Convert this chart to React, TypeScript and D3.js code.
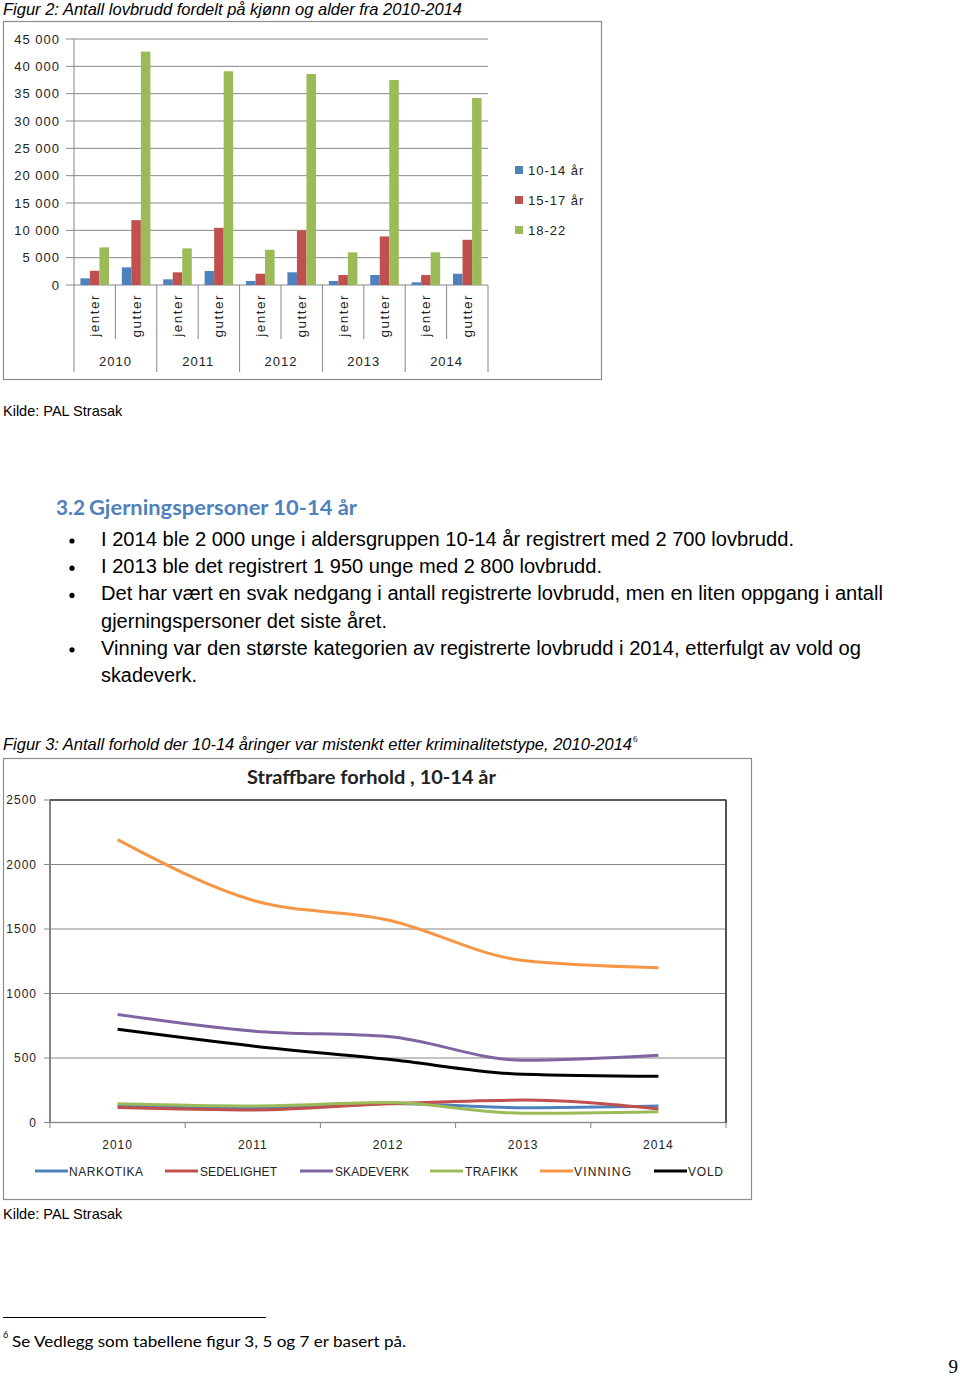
import React from "react";
import * as d3 from "d3";

// ---------- Figure 2 data ----------
const years = ["2010", "2011", "2012", "2013", "2014"];
const genders = ["jenter", "gutter"];
const ageGroups = ["10-14 år", "15-17 år", "18-22"];
const age10_14 = [1220, 3230, 1040, 2555, 730, 2320, 730, 1830, 490, 2060];
const age15_17 = [2600, 11860, 2320, 10460, 2060, 9980, 1830, 8880, 1830, 8270];
const age18_22 = [6880, 42700, 6700, 39100, 6440, 38600, 5970, 37500, 5970, 34200];
const topTicks = [0, 5000, 10000, 15000, 20000, 25000, 30000, 35000, 40000, 45000];
const barColors = ["#4F81BD", "#C0504D", "#9BBB59"];

// ---------- Figure 3 data ----------
const lineYears = ["2010", "2011", "2012", "2013", "2014"];
const narkotika = [128, 110, 147, 115, 128];
const sedelighet = [116, 97, 145, 174, 105];
const skadeverk = [838, 709, 666, 482, 521];
const trafikk = [145, 128, 155, 71, 84];
const vinning = [2193, 1723, 1570, 1256, 1200];
const vold = [722, 593, 490, 374, 358];
const lineTicks = [0, 500, 1000, 1500, 2000, 2500];
const lineSeries = [
  { name: "NARKOTIKA", values: narkotika, color: "#4F81BD" },
  { name: "SEDELIGHET", values: sedelighet, color: "#C0504D" },
  { name: "SKADEVERK", values: skadeverk, color: "#8064A2" },
  { name: "TRAFIKK", values: trafikk, color: "#9BBB59" },
  { name: "VINNING", values: vinning, color: "#F79646" },
  { name: "VOLD", values: vold, color: "#000000" },
];
const legendLayout = [
  { lx: 35, tx: 69, tw: 74 },
  { lx: 165, tx: 200, tw: 77 },
  { lx: 300, tx: 335, tw: 74 },
  { lx: 430, tx: 465, tw: 53 },
  { lx: 540, tx: 574, tw: 57 },
  { lx: 654, tx: 688, tw: 35 },
];

const bullets = [
  ["I 2014 ble 2 000 unge i aldersgruppen 10-14 år registrert med 2 700 lovbrudd."],
  ["I 2013 ble det registrert 1 950 unge med 2 800 lovbrudd."],
  ["Det har vært en svak nedgang i antall registrerte lovbrudd, men en liten oppgang i antall", "gjerningspersoner det siste året."],
  ["Vinning var den største kategorien av registrerte lovbrudd i 2014, etterfulgt av vold og", "skadeverk."],
];
const bulletWidths = [693, 501, 782, 286, 760, 96];

const ARIAL = "'Liberation Sans', Arial, sans-serif";
const CAL = "Lato, 'Open Sans', sans-serif";
const GRID = "#868686";

function fmtThousands(v: number) {
  return d3.format(",")(v).replace(/,/g, " ");
}

export default function App() {
  // ---- top chart scales ----
  const catIdx = d3.range(10);
  const x = d3.scaleBand<number>().domain(catIdx).range([74, 488]).paddingInner(0.31).paddingOuter(0.155);
  const xi = d3.scaleBand<number>().domain([0, 1, 2]).range([0, x.bandwidth()]);
  const y = d3.scaleLinear().domain([0, 45000]).range([285, 39]);
  const step = x.step();
  const allSeries = [age10_14, age15_17, age18_22];

  // ---- bottom chart scales ----
  const bx = d3.scaleBand<string>().domain(lineYears).range([50, 726]);
  const by = d3.scaleLinear().domain([0, 2500]).range([1122.5, 800]);
  const line = d3
    .line<number>()
    .x((_, i) => (bx(lineYears[i]) as number) + bx.bandwidth() / 2)
    .y((v) => by(v))
    .curve(d3.curveMonotoneX);

  // bullet text baselines
  let lineY = 546;
  const bulletRows: { y: number; text: string; bullet: boolean }[] = [];
  bullets.forEach((b) => {
    b.forEach((t, j) => {
      bulletRows.push({ y: lineY, text: t, bullet: j === 0 });
      lineY += 27.2;
    });
  });

  return (
    <svg
      width={960}
      height={1378}
      style={{ position: "absolute", left: 0, top: 0, background: "#fff" }}
      xmlns="http://www.w3.org/2000/svg"
    >
      <rect x={0} y={0} width={960} height={1378} fill="#fff" />
      {/* Figure 2 title */}
      <text x={3} y={15} fontFamily={ARIAL} fontStyle="italic" fontSize={16.5} fill="#000" textLength={459} lengthAdjust="spacingAndGlyphs">
        Figur 2: Antall lovbrudd fordelt på kjønn og alder fra 2010-2014
      </text>
      <rect x={3.5} y={21.5} width={598} height={358} fill="none" stroke="#8c8c8c" strokeWidth={1.2} />

      {/* gridlines + y labels */}
      {topTicks.map((t) => (
        <g key={t}>
          <line x1={66} x2={488} y1={y(t)} y2={y(t)} stroke={GRID} strokeWidth={1} />
          <text
            x={60}
            y={y(t) + 4.5}
            textAnchor="end"
            fontFamily={ARIAL}
            fontSize={13}
            letterSpacing={1}
            fill="#222"
          >
            {t === 0 ? "0" : fmtThousands(t)}
          </text>
        </g>
      ))}
      <line x1={74} x2={74} y1={39} y2={372} stroke={GRID} strokeWidth={1} />

      {/* category separators */}
      {d3.range(1, 11).map((k) => {
        const xx = 74 + k * step;
        const isYear = k % 2 === 0;
        return <line key={k} x1={xx} x2={xx} y1={285} y2={isYear ? 372 : 339} stroke={GRID} strokeWidth={1} />;
      })}

      {/* bars */}
      {catIdx.map((c) =>
        allSeries.map((s, si) => (
          <rect
            key={`${c}-${si}`}
            x={(x(c) as number) + (xi(si) as number)}
            y={y(s[c])}
            width={xi.bandwidth()}
            height={285 - y(s[c])}
            fill={barColors[si]}
          />
        ))
      )}

      {/* gender labels */}
      {catIdx.map((c) => {
        const cx = (x(c) as number) + x.bandwidth() / 2 + 4.5;
        return (
          <text
            key={c}
            transform={`translate(${cx},294) rotate(-90)`}
            textAnchor="end"
            fontFamily={ARIAL}
            fontSize={13.5}
            letterSpacing={1.5}
            fill="#222"
          >
            {genders[c % 2]}
          </text>
        );
      })}

      {/* year labels */}
      {years.map((yr, i) => (
        <text
          key={yr}
          x={74 + (2 * i + 1) * step}
          y={366}
          textAnchor="middle"
          fontFamily={ARIAL}
          fontSize={13}
          letterSpacing={1}
          fill="#222"
        >
          {yr}
        </text>
      ))}

      {/* legend */}
      {ageGroups.map((g, i) => (
        <g key={g}>
          <rect x={515} y={166 + i * 30} width={8} height={8} fill={barColors[i]} />
          <text x={528} y={175 + i * 30} fontFamily={ARIAL} fontSize={13} letterSpacing={1} fill="#222">
            {g}
          </text>
        </g>
      ))}

      <text x={3} y={416} fontFamily={ARIAL} fontSize={14.5} fill="#000">
        Kilde: PAL Strasak
      </text>

      {/* Heading */}
      <text x={56} y={515} fontFamily={CAL} fontWeight={700} fontSize={20} fill="#4F81BD" textLength={29} lengthAdjust="spacingAndGlyphs">
        3.2
      </text>
      <text x={89} y={515} fontFamily={CAL} fontWeight={700} fontSize={20} fill="#4F81BD" textLength={268} lengthAdjust="spacingAndGlyphs">
        Gjerningspersoner 10-14 år
      </text>

      {/* bullets */}
      {bulletRows.map((r, i) => (
        <g key={i}>
          {r.bullet && <circle cx={72} cy={r.y - 5} r={2.6} fill="#000" />}
          <text
            x={101}
            y={r.y}
            fontFamily={ARIAL}
            fontSize={19.5}
            fill="#000"
            textLength={bulletWidths[i]}
            lengthAdjust="spacingAndGlyphs"
          >
            {r.text}
          </text>
        </g>
      ))}

      {/* Figure 3 title */}
      <text x={3} y={750} fontFamily={ARIAL} fontStyle="italic" fontSize={16.5} fill="#000" textLength={629} lengthAdjust="spacingAndGlyphs">
        Figur 3: Antall forhold der 10-14 åringer var mistenkt etter kriminalitetstype, 2010-2014
      </text>
      <text x={633} y={742} fontFamily="'Liberation Serif', serif" fontSize={9} fill="#000">
        6
      </text>

      <rect x={3.5} y={758.5} width={748} height={441} fill="none" stroke="#8c8c8c" strokeWidth={1.2} />
      <text
        x={371.5}
        y={784}
        textAnchor="middle"
        fontFamily={CAL}
        fontWeight={700}
        fontSize={19}
        fill="#222"
        textLength={249}
        lengthAdjust="spacingAndGlyphs"
      >
        Straffbare forhold , 10-14 år
      </text>

      {/* plot area */}
      <rect x={50} y={800} width={676} height={322.5} fill="none" stroke="#333" strokeWidth={1.2} />
      {lineTicks.map((t) => (
        <g key={t}>
          <line x1={44} x2={726} y1={by(t)} y2={by(t)} stroke={GRID} strokeWidth={1} />
          <text x={37} y={by(t) + 4} textAnchor="end" fontFamily={ARIAL} fontSize={12} letterSpacing={1} fill="#222">
            {t}
          </text>
        </g>
      ))}
      <line x1={50} x2={50} y1={800} y2={1122.5} stroke={GRID} strokeWidth={1.2} />
      <line x1={726} x2={726} y1={800} y2={1122.5} stroke="#333" strokeWidth={1.2} />
      <line x1={50} x2={726} y1={800} y2={800} stroke="#333" strokeWidth={1.2} />
      {d3.range(0, 6).map((k) => {
        const xx = 50 + k * bx.step();
        return <line key={k} x1={xx} x2={xx} y1={1122.5} y2={1128} stroke={GRID} strokeWidth={1} />;
      })}
      {lineYears.map((yr) => (
        <text
          key={yr}
          x={(bx(yr) as number) + bx.bandwidth() / 2}
          y={1149}
          textAnchor="middle"
          fontFamily={ARIAL}
          fontSize={12}
          letterSpacing={1}
          fill="#222"
        >
          {yr}
        </text>
      ))}

      {/* lines */}
      {lineSeries.map((s) => (
        <path key={s.name} d={line(s.values) as string} fill="none" stroke={s.color} strokeWidth={3} strokeLinejoin="round" />
      ))}

      {/* legend */}
      {lineSeries.map((s, i) => {
        const L = legendLayout[i];
        return (
          <g key={s.name}>
            <line x1={L.lx} x2={L.lx + 33} y1={1171} y2={1171} stroke={s.color} strokeWidth={3} />
            <text
              x={L.tx}
              y={1175.5}
              fontFamily={ARIAL}
              fontSize={12}
              fill="#222"
              textLength={L.tw}
              lengthAdjust="spacing"
            >
              {s.name}
            </text>
          </g>
        );
      })}

      <text x={3} y={1219} fontFamily={ARIAL} fontSize={14.5} fill="#000">
        Kilde: PAL Strasak
      </text>

      {/* footnote */}
      <line x1={3} x2={266} y1={1317.5} y2={1317.5} stroke="#000" strokeWidth={1} />
      <text x={3} y={1338} fontFamily={CAL} fontSize={9} fill="#000">
        6
      </text>
      <text x={12} y={1347} fontFamily={CAL} fontSize={16} fill="#000" textLength={394} lengthAdjust="spacingAndGlyphs">
        Se Vedlegg som tabellene figur 3, 5 og 7 er basert på.
      </text>
      <text x={958} y={1373} textAnchor="end" fontFamily="'Liberation Serif', 'Times New Roman', serif" fontSize={19} fill="#000">
        9
      </text>
    </svg>
  );
}
